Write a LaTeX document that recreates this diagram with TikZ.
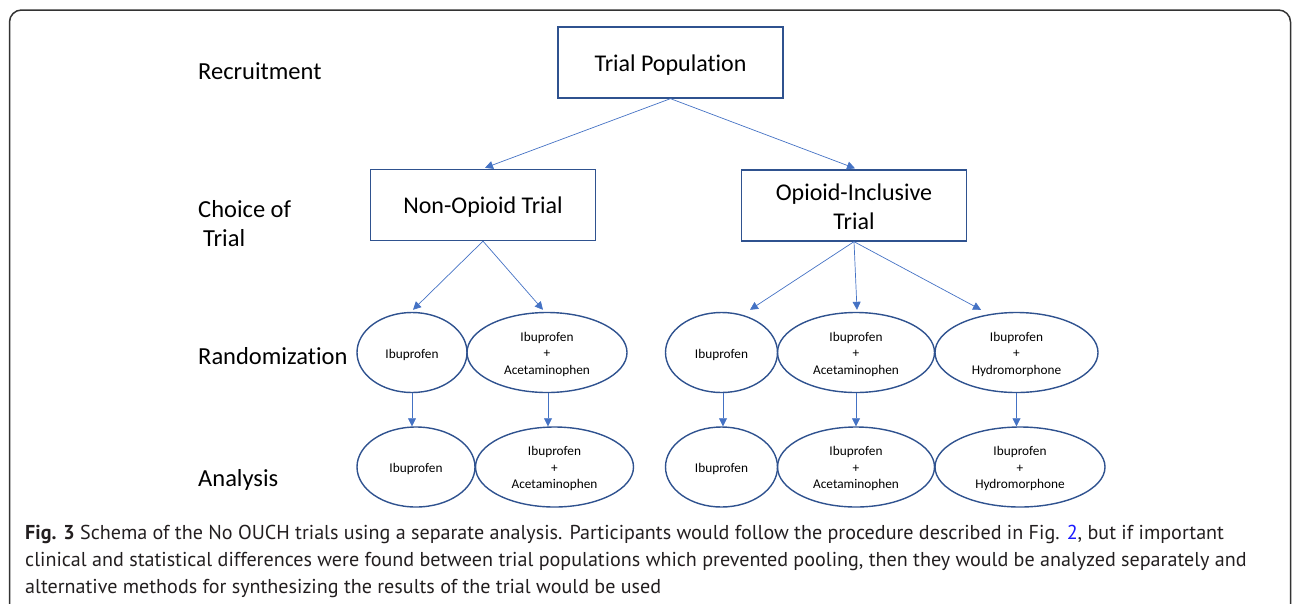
\documentclass[tikz,border=0pt]{standalone}
\usepackage{fontspec}
\setmainfont{Carlito}[Ligatures=NoCommon]
\newfontfamily\capfont{PT Sans}
\usetikzlibrary{shapes.geometric,arrows.meta,calc}
\definecolor{edgeblue}{HTML}{2F528F}
\definecolor{arrblue}{HTML}{4472C4}
\definecolor{captext}{HTML}{231F20}
\definecolor{linkblue}{HTML}{1A1AFF}
\newcommand\lowtext[2]{\raisebox{#1}[\height][\depth]{\begin{tabular}{@{}c@{}}#2\end{tabular}}}
\begin{document}
\begin{tikzpicture}[x=1pt,y=-1pt,
 box/.style={draw=edgeblue, line width=1.3pt, minimum width=225pt, minimum height=71pt, inner sep=0pt, font=\fontsize{24}{29}\selectfont},
 drug/.style={draw=edgeblue, line width=1.4pt, ellipse, inner sep=0pt, font=\fontsize{13.3}{16.5}\selectfont},
 arr/.style={draw=arrblue, line width=0.7pt, -{Triangle[length=8pt,width=8pt]}},
 lbl/.style={anchor=west, inner sep=0pt, font=\fontsize{24.5}{29}\selectfont, align=left},
 capline/.style={anchor=base west, inner sep=0pt, text=captext, font=\capfont\fontsize{20.1}{27}\selectfont}]
\useasboundingbox (0,0) rectangle (1292,603);
\draw[line width=1.5pt, draw=black!80, rounded corners=12pt] (9.5,610) -- (9.5,10) -- (1290.5,10) -- (1290.5,610);

% stage labels
\node[lbl] (lrec) at (198,71) {Recruitment};
\node[lbl] (lcho) at (198,223.5) {Choice of\\\hspace*{5pt}Trial};
\node[lbl] (lran) at (198,356) {Randomization};
\node[lbl] (lana) at (198,479.5) {Analysis};

% boxes
\node[box] (tp) at (670.5,62.5) {\lowtext{-3pt}{Trial Population}};
\node[box] (nop) at (483,205) {\lowtext{-3pt}{Non-Opioid Trial}};
\node[box] (op) at (854,205.5) {\lowtext{-3.5pt}{Opioid-Inclusive\\Trial}};

% randomization ellipses
\node[drug, minimum width=110pt, minimum height=80pt] (e1) at (412,352.5) {\lowtext{-2.5pt}{Ibuprofen}};
\node[drug, minimum width=160pt, minimum height=80pt] (e2) at (547,352.5) {\lowtext{-2pt}{Ibuprofen\\+\\Acetaminophen}};
\node[drug, minimum width=112pt, minimum height=80pt] (e3) at (721.5,352.5) {\lowtext{-2.5pt}{Ibuprofen}};
\node[drug, minimum width=157pt, minimum height=80pt] (e4) at (856,352.5) {\lowtext{-2pt}{Ibuprofen\\+\\Acetaminophen}};
\node[drug, minimum width=163pt, minimum height=80pt] (e5) at (1016.5,352.5) {\lowtext{-2pt}{Ibuprofen\\+\\Hydromorphone}};

% analysis ellipses
\node[drug, minimum width=118pt, minimum height=80pt] (f1) at (416,467) {\lowtext{-2pt}{Ibuprofen}};
\node[drug, minimum width=158pt, minimum height=80pt] (f2) at (554.5,467) {\lowtext{-2pt}{Ibuprofen\\+\\Acetaminophen}};
\node[drug, minimum width=112pt, minimum height=80pt] (f3) at (721.5,467) {\lowtext{-2pt}{Ibuprofen}};
\node[drug, minimum width=157pt, minimum height=80pt] (f4) at (856,467) {\lowtext{-2pt}{Ibuprofen\\+\\Acetaminophen}};
\node[drug, minimum width=170pt, minimum height=80pt] (f5) at (1020,467) {\lowtext{-2pt}{Ibuprofen\\+\\Hydromorphone}};

% arrows
\draw[arr] (tp.south) -- ($(nop.north)+(2,-1)$);
\draw[arr] (tp.south) -- ($(op.north)+(1,-1)$);
\draw[arr] (nop.south) -- ($(e1.north)+(1,-2)$);
\draw[arr] (nop.south) -- ($(e2.north)+(-4,-2)$);
\draw[arr] (op.south) -- ($(e3.north)+(28.5,-2)$);
\draw[arr] (op.south) -- ($(e4.north)+(1,-2)$);
\draw[arr] (op.south) -- ($(e5.north)+(-35.5,-2)$);
\draw[arr] (e1.south) -- (e1.south |- f1.north);
\draw[arr] ($(e2.south)+(1,0)$) -- ($(e2.south |- f2.north)+(1,0)$);
\draw[arr] ($(e3.south)+(1.5,0)$) -- ($(e3.south |- f3.north)+(1.5,0)$);
\draw[arr] (e4.south) -- (e4.south |- f4.north);
\draw[arr] (e5.south) -- (e5.south |- f5.north);

% caption
\node[capline] (c1) at (25,539.5) {\textbf{Fig. 3} Schema of the No OUCH trials using a separate analysis. Participants would follow the procedure described in Fig. \textcolor{linkblue}{2}, but if important};
\node[capline] (c2) at (25,566.5) {clinical and statistical differences were found between trial populations which prevented pooling, then they would be analyzed separately and};
\node[capline] (c3) at (25,593.5) {alternative methods for synthesizing the results of the trial would be used};
\end{tikzpicture}
\end{document}
